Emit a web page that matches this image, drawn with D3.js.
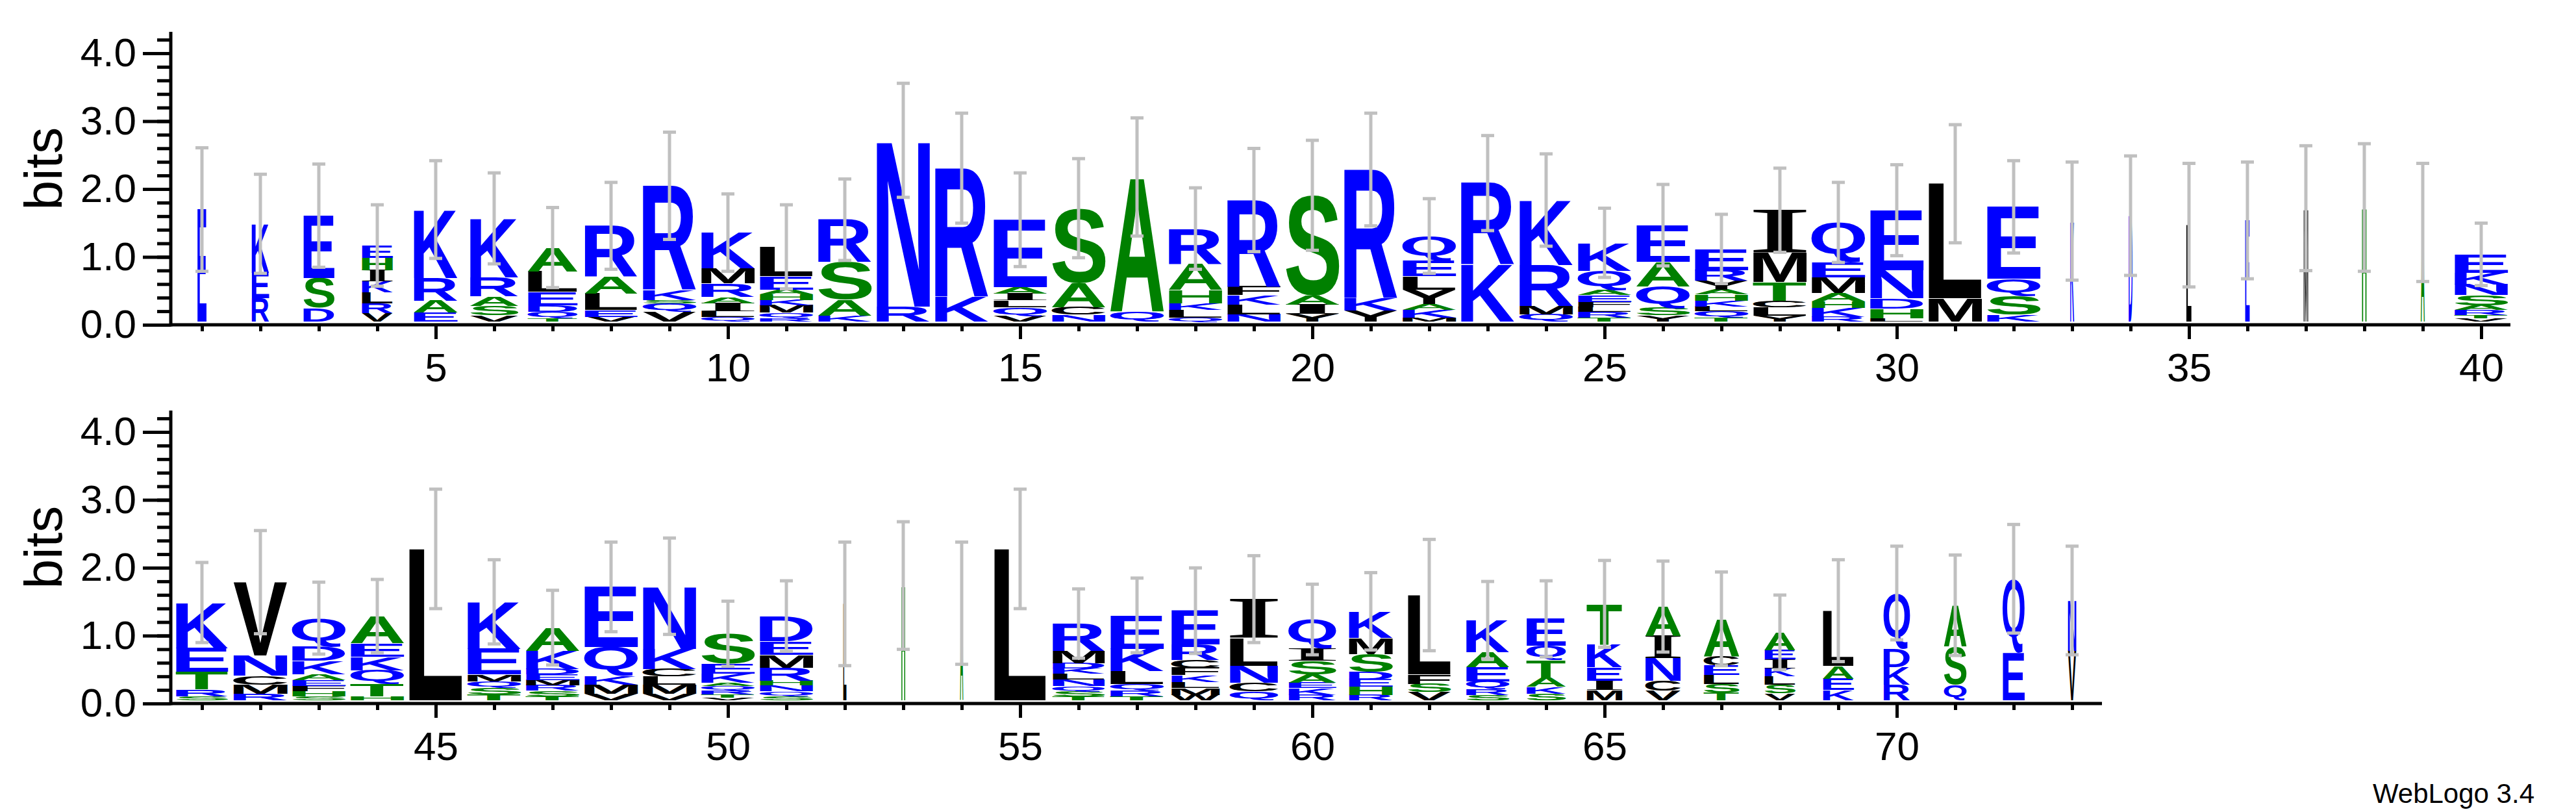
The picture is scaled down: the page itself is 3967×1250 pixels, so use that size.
<!DOCTYPE html>
<html>
<head>
<meta charset="utf-8">
<script src="https://cdn.jsdelivr.net/npm/d3@7"></script>
<style>
  body { margin: 0; background: #fff; }
  text { font-family: "Liberation Sans", Arial, sans-serif; }
</style>
</head>
<body>
<svg id="chart" width="3967" height="1250"></svg>
<script>
// 각 위치별 글자 스택 (아래 -> 위), 높이는 bits
const row1Positions = d3.range(1, 41);
const row1Stacks = [
  [["E", 1.65]],
  [["R", .34], ["E", .38], ["K", .72]],
  [["D", .2], ["S", .44], ["E", .92]],
  [["V", .12], ["R", .15], ["L", .16], ["K", .16], ["I", .17], ["H", .18], ["E", .18]],
  [["E", .13], ["A", .18], ["R", .33], ["K", 1.01]],
  [["V", .09], ["S", .14], ["A", .14], ["R", .28], ["K", .87]],
  [["T", .05], ["Q", .09], ["D", .1], ["E", .2], ["L", .3], ["A", .35]],
  [["V", .07], ["E", .1], ["L", .24], ["A", .25], ["R", .75]],
  [["V", .14], ["Q", .13], ["S", .05], ["K", .15], ["R", 1.53]],
  [["Q", .07], ["L", .08], ["I", .12], ["A", .09], ["R", .2], ["M", .22], ["K", .53]],
  [["R", .05], ["Q", .08], ["M", .11], ["K", .08], ["H", .08], ["A", .07], ["E", .2], ["L", .43]],
  [["K", .09], ["A", .24], ["S", .55], ["R", .62]],
  [["R", .22], ["N", 2.45]],
  [["K", .37], ["R", 1.89]],
  [["V", .08], ["Q", .13], ["L", .1], ["I", .1], ["A", .1], ["E", .99]],
  [["N", .1], ["C", .11], ["A", .36], ["S", 1.1]],
  [["Q", .15], ["A", 1.98]],
  [["Q", .06], ["L", .11], ["K", .1], ["H", .2], ["A", .38], ["R", .52]],
  [["N", .11], ["L", .14], ["K", .14], ["F", .13], ["R", 1.27]],
  [["Y", .11], ["I", .14], ["A", .13], ["S", 1.48]],
  [["Y", .16], ["K", .19], ["R", 1.89]],
  [["M", .06], ["K", .11], ["A", .09], ["Y", .21], ["L", .2], ["E", .23], ["Q", .36]],
  [["K", .84], ["R", 1.2]],
  [["Q", .11], ["M", .12], ["R", .6], ["K", .96]],
  [["T", .06], ["R", .08], ["L", .07], ["F", .08], ["E", .1], ["A", .07], ["Q", .29], ["K", .41]],
  [["Y", .09], ["S", .11], ["Q", .32], ["A", .36], ["E", .54]],
  [["T", .06], ["Q", .09], ["L", .07], ["K", .09], ["H", .09], ["A", .07], ["Y", .13], ["R", .16], ["E", .31]],
  [["Y", .09], ["L", .12], ["C", .1], ["T", .27], ["M", .43], ["I", .63]],
  [["R", .07], ["K", .13], ["H", .1], ["A", .12], ["M", .23], ["E", .22], ["Q", .59]],
  [["L", .05], ["H", .14], ["D", .15], ["N", .42], ["E", .88]],
  [["M", .34], ["L", 1.69]],
  [["K", .1], ["S", .27], ["Q", .26], ["E", 1.06]],
  [["K", 1.48]],
  [["D", 1.56]],
  [["L", 1.42]],
  [["E", 1.49]],
  [["M", 1.67]],
  [["H", 1.68]],
  [["A", 1.46]],
  [["V", .05], ["T", .05], ["R", .07], ["A", .07], ["S", .15], ["N", .16], ["K", .17], ["E", .27]]
];
const row1Errors = [0.91, 0.73, 0.76, 0.6, 0.72, 0.67, 0.59, 0.64, 0.79, 0.57, 0.62, 0.6, 0.84, 0.81, 0.69,
  0.73, 0.87, 0.6, 0.76, 0.81, 0.83, 0.55, 0.7, 0.68, 0.51, 0.6, 0.51, 0.62, 0.59, 0.67, 0.87, 0.68,
  0.87, 0.88, 0.91, 0.86, 0.92, 0.94, 0.87, 0.46];
// 컬럼 폭 (gap 비율 때문에 좁아지는 컬럼)
const row1Widths = [14, 27, 48, 48, 68, 75, 77, 82, 83, 83, 83, 83, 83, 83, 83, 83, 83, 83, 83, 83,
  83, 83, 83, 83, 83, 83, 83, 83, 83, 83, 83, 83, 6, 6, 8, 7, 7, 7, 6, 83];

const row2Positions = d3.range(41, 74);
const row2Stacks = [
  [["S", .06], ["R", .1], ["T", .26], ["E", .35], ["K", .67]],
  [["R", .1], ["M", .13], ["C", .13], ["N", .3], ["V", 1.08]],
  [["S", .06], ["H", .07], ["F", .08], ["E", .09], ["A", .08], ["K", .2], ["D", .21], ["Q", .42]],
  [["H", .06], ["T", .18], ["Q", .2], ["K", .2], ["E", .2], ["A", .4]],
  [["L", 2.23]],
  [["T", .08], ["S", .1], ["Q", .1], ["M", .1], ["E", .38], ["K", .69]],
  [["T", .06], ["S", .08], ["R", .08], ["M", .08], ["E", .08], ["D", .08], ["K", .27], ["A", .34]],
  [["V", .1], ["M", .13], ["K", .12], ["Q", .43], ["E", .89]],
  [["V", .1], ["M", .13], ["L", .12], ["C", .11], ["K", .3], ["N", .92]],
  [["V", .04], ["T", .05], ["R", .06], ["Q", .06], ["A", .05], ["K", .13], ["E", .15], ["S", .44]],
  [["S", .06], ["Q", .07], ["N", .09], ["H", .07], ["R", .19], ["M", .19], ["E", .2], ["D", .37]],
  [["L", 1.42]],
  [["H", 1.69]],
  [["A", 1.43]],
  [["L", 2.23]],
  [["T", .06], ["S", .07], ["Q", .08], ["N", .1], ["L", .08], ["K", .08], ["D", .08], ["M", .18], ["R", .4]],
  [["T", .06], ["R", .08], ["Q", .1], ["L", .19], ["K", .33], ["E", .49]],
  [["W", .08], ["M", .1], ["L", .09], ["K", .1], ["F", .11], ["C", .11], ["R", .23], ["E", .5]],
  [["Q", .13], ["C", .13], ["N", .25], ["L", .4], ["I", .58]],
  [["R", .08], ["K", .1], ["E", .08], ["A", .12], ["S", .2], ["I", .18], ["Q", .43]],
  [["R", .08], ["H", .12], ["E", .11], ["D", .11], ["S", .26], ["M", .24], ["K", .39]],
  [["V", .12], ["S", .12], ["F", .14], ["L", 1.17]],
  [["S", .08], ["R", .08], ["Q", .12], ["E", .21], ["A", .22], ["K", .47]],
  [["S", .1], ["K", .1], ["A", .13], ["T", .26], ["Q", .21], ["E", .4]],
  [["M", .15], ["I", .14], ["E", .2], ["K", .33], ["T", .6]],
  [["V", .14], ["C", .15], ["N", .33], ["I", .33], ["A", .43]],
  [["T", .11], ["S", .13], ["L", .13], ["E", .14], ["C", .14], ["A", .55]],
  [["V", .1], ["S", .13], ["L", .12], ["K", .12], ["I", .13], ["E", .14], ["A", .26]],
  [["K", .15], ["E", .17], ["A", .19], ["L", .81]],
  [["R", .23], ["K", .26], ["D", .27], ["Q", .82]],
  [["Q", .23], ["S", .56], ["A", .61]],
  [["E", .7], ["Q", 1.09]],
  [["V", .73], ["N", .74]]
];
const row2Errors = [0.59, 0.76, 0.53, 0.54, 0.88, 0.62, 0.55, 0.66, 0.71, 0.48, 0.52, 0.91, 0.94, 0.9,
  0.88, 0.51, 0.55, 0.63, 0.64, 0.52, 0.57, 0.82, 0.57, 0.56, 0.64, 0.67, 0.69, 0.55, 0.75, 0.69,
  0.74, 0.8, 0.8];
const row2Widths = [81, 84, 83, 83, 83, 83, 83, 83, 83, 83, 83, 5, 6, 5, 81, 81, 83, 75, 75, 74, 68,
  67, 67, 61, 55, 55, 55, 48, 48, 41, 35, 34, 13];

const yMajorTicks = [0, 1, 2, 3, 4];
const yMinorTicks = d3.range(0, 4.3, 0.2);

// hydrophobicity 색상
const colorOf = (ch) => "RKDENQ".includes(ch) ? "#0000ff" : "SGHTAP".includes(ch) ? "#008000" : "#000000";

// I는 세리프 글꼴로 (WebLogo처럼 위아래 가로획)
const fontOf = (ch) => ch === "I"
  ? "bold 100px 'Liberation Serif', serif"
  : "bold 100px 'Liberation Sans', Arial, sans-serif";
const ctx = document.createElement("canvas").getContext("2d");
const inkCache = {};
function ink(ch) {
  if (!inkCache[ch]) {
    ctx.font = fontOf(ch);
    const m = ctx.measureText(ch);
    inkCache[ch] = { x: -m.actualBoundingBoxLeft, y: -m.actualBoundingBoxAscent,
      w: m.actualBoundingBoxLeft + m.actualBoundingBoxRight,
      h: m.actualBoundingBoxAscent + m.actualBoundingBoxDescent };
  }
  return inkCache[ch];
}

const svg = d3.select("#chart");

function drawRow(cfg) {
  const { positions, stacks, errors, widths, top, xRange, xEnd } = cfg;
  const x = d3.scaleLinear().domain([positions[0], positions[positions.length - 1]]).range(xRange);
  const y = d3.scaleLinear().domain([0, 4]).range([top + 418, top]);
  const g = svg.append("g");
  const base = y(0) - 5;

  // 글자
  stacks.forEach((stack, i) => {
    const w = widths[i];
    const cx = x(positions[i]);
    let acc = 0;
    stack.forEach(([ch, h]) => {
      const b = ink(ch);
      const y0 = base - (y(0) - y(acc + h));
      const hh = y(0) - y(h);
      g.append("text")
        .text(ch)
        .style("font", fontOf(ch))
        .attr("fill", colorOf(ch))
        .attr("transform", `translate(${cx - w / 2},${y0}) scale(${w / b.w},${hh / b.h}) translate(${-b.x},${-b.y})`);
      acc += h;
    });
  });

  // 에러바
  stacks.forEach((stack, i) => {
    const tot = d3.sum(stack, (d) => d[1]);
    const cx = x(positions[i]);
    const yc = base - (y(0) - y(tot));
    const e = y(0) - y(errors[i]);
    g.append("line").attr("x1", cx).attr("x2", cx).attr("y1", yc - e).attr("y2", yc + e)
      .attr("stroke", "#c0c0c0").attr("stroke-width", 5);
    [yc - e, yc + e].forEach((yy) => g.append("line")
      .attr("x1", cx - 10).attr("x2", cx + 10).attr("y1", yy).attr("y2", yy)
      .attr("stroke", "#c0c0c0").attr("stroke-width", 5));
  });

  // y축
  const yAxis = g.append("g").attr("transform", "translate(263,0)")
    .call(d3.axisLeft(y).tickValues(yMajorTicks).tickSize(43).tickPadding(10).tickFormat(d3.format(".1f")));
  g.append("g").attr("transform", "translate(263,0)")
    .call(d3.axisLeft(y).tickValues(yMinorTicks).tickSize(21).tickFormat(""))
    .select(".domain").remove();
  yAxis.select(".domain").remove();
  yAxis.selectAll("text").style("font-size", "62px").attr("fill", "#000");
  g.selectAll(".tick line").attr("stroke", "#000").attr("stroke-width", 5);
  g.append("line").attr("x1", 263).attr("x2", 263).attr("y1", top - 33).attr("y2", y(0) + 2.5)
    .attr("stroke", "#000").attr("stroke-width", 5);

  // x축
  const xAxis = g.append("g").attr("transform", `translate(0,${y(0)})`);
  xAxis.append("g").call(d3.axisBottom(x).tickValues(positions.filter((p) => p % 5 !== 0)).tickSize(10).tickFormat(""));
  xAxis.append("g").call(d3.axisBottom(x).tickValues(positions.filter((p) => p % 5 === 0)).tickSize(22).tickPadding(21))
    .selectAll("text").style("font-size", "62px").attr("fill", "#000");
  xAxis.selectAll(".domain").remove();
  xAxis.selectAll(".tick line").attr("stroke", "#000").attr("stroke-width", 5);
  g.append("line").attr("x1", 263).attr("x2", xEnd).attr("y1", y(0)).attr("y2", y(0))
    .attr("stroke", "#000").attr("stroke-width", 5);

  g.append("text").text("bits")
    .attr("transform", `translate(95,${y(2.3)}) rotate(-90)`)
    .attr("text-anchor", "middle").style("font-size", "82px");
}

drawRow({ positions: row1Positions, stacks: row1Stacks, errors: row1Errors, widths: row1Widths,
  top: 82, xRange: [311, 3821], xEnd: 3866 });
drawRow({ positions: row2Positions, stacks: row2Stacks, errors: row2Errors, widths: row2Widths,
  top: 665, xRange: [311, 3191], xEnd: 3237 });

svg.append("text").text("WebLogo 3.4").attr("x", 3903).attr("y", 1236)
  .attr("text-anchor", "end").style("font-size", "42px");
</script>
</body>
</html>
